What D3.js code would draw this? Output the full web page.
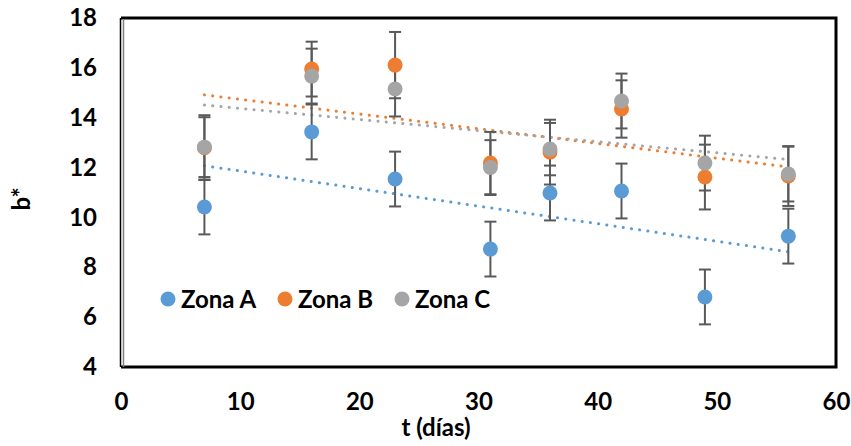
<!DOCTYPE html>
<html>
<head>
<meta charset="utf-8">
<script src="https://cdn.jsdelivr.net/npm/d3@7"></script>
<style>
  body { margin: 0; background: #fff; }
  svg { display: block; }
</style>
</head>
<body>
<div class="chart"></div>
<script>
// Data
const days = [7, 16, 23, 31, 36, 42, 49, 56]
const zonaA = [10.42, 13.43, 11.54, 8.73, 10.98, 11.06, 6.81, 9.25]
const zonaAErr = [1.1, 1.1, 1.1, 1.1, 1.1, 1.1, 1.1, 1.1]
const zonaB = [12.8, 15.95, 16.11, 12.18, 12.62, 14.35, 11.62, 11.66]
const zonaBErr = [1.3, 1.1, 1.33, 1.25, 1.3, 1.15, 1.3, 1.2]
const zonaC = [12.82, 15.67, 15.15, 12.0, 12.74, 14.67, 12.18, 11.74]
const zonaCErr = [1.2, 1.1, 1.1, 1.1, 1.05, 1.1, 1.1, 1.1]
const seriesNames = ["Zona A", "Zona B", "Zona C"]
const seriesColors = ["#5B9BD5", "#ED7D31", "#A5A5A5"]
const yTicks = [4, 6, 8, 10, 12, 14, 16, 18]
const xTicks = [0, 10, 20, 30, 40, 50, 60]

const series = [
    {name: seriesNames[0], values: zonaA, err: zonaAErr, color: seriesColors[0]},
    {name: seriesNames[1], values: zonaB, err: zonaBErr, color: seriesColors[1]},
    {name: seriesNames[2], values: zonaC, err: zonaCErr, color: seriesColors[2]}
]

// Dimensions
const width = 851
const height = 446
const margin = {top: 18, right: 15, bottom: 79, left: 121}
const font = "Lato, 'Open Sans', sans-serif"
const fontSize = "24px"

const svg = d3.select(".chart").append("svg")
    .attr("width", width)
    .attr("height", height)
    .attr("viewBox", [0, 0, width, height])

const x = d3.scaleLinear().domain([0, 60]).range([margin.left, width - margin.right])
const y = d3.scaleLinear().domain([4, 18]).range([height - margin.bottom, margin.top])

// Axes (labels only)
const yAxis = svg.append("g")
    .attr("transform", `translate(${margin.left},0)`)
    .call(d3.axisLeft(y).tickValues(yTicks).tickSize(0).tickPadding(24))
yAxis.select(".domain").remove()

const xAxis = svg.append("g")
    .attr("transform", `translate(0,${height - margin.bottom})`)
    .call(d3.axisBottom(x).tickValues(xTicks).tickSize(0).tickPadding(26))
xAxis.select(".domain").remove()

svg.selectAll(".tick text")
    .attr("font-family", font)
    .attr("font-weight", "bold")
    .attr("font-size", fontSize)
    .attr("fill", "#000")

// Linear trend lines (least squares, like Excel)
function trend(values) {
    const mx = d3.mean(days), my = d3.mean(values)
    const num = d3.sum(days, (t, i) => (t - mx) * (values[i] - my))
    const den = d3.sum(days, t => (t - mx) ** 2)
    const slope = num / den
    const t0 = d3.min(days), t1 = d3.max(days)
    return [[t0, my + slope * (t0 - mx)], [t1, my + slope * (t1 - mx)]]
}

const line = d3.line().x(d => x(d[0])).y(d => y(d[1]))

svg.append("g")
    .selectAll("path")
    .data(series)
    .join("path")
        .attr("d", d => line(trend(d.values)))
        .attr("fill", "none")
        .attr("stroke", d => d.color)
        .attr("stroke-width", 3)
        .attr("stroke-linecap", "round")
        .attr("stroke-dasharray", "0.1 8.2")

// Error bars
const errG = svg.append("g")
    .attr("stroke", "#595959")
    .attr("stroke-width", 2)
series.forEach(s => {
    days.forEach((t, i) => {
        const cx = x(t)
        const top = y(s.values[i] + s.err[i])
        const bot = y(s.values[i] - s.err[i])
        errG.append("line").attr("x1", cx).attr("x2", cx).attr("y1", top).attr("y2", bot)
        errG.append("line").attr("x1", cx - 6).attr("x2", cx + 6).attr("y1", top).attr("y2", top)
        errG.append("line").attr("x1", cx - 6).attr("x2", cx + 6).attr("y1", bot).attr("y2", bot)
    })
})

// Markers
series.forEach(s => {
    svg.append("g")
        .selectAll("circle")
        .data(days)
        .join("circle")
            .attr("cx", d => x(d))
            .attr("cy", (d, i) => y(s.values[i]))
            .attr("r", 7.5)
            .attr("fill", s.color)
})

// Plot frame
const x0 = x(0), x1 = x(60), y0 = y(18), y1 = y(4)
svg.append("path")
    .attr("d", `M${x0},${y0}H${x1}V${y1}H${x0}`)
    .attr("fill", "none")
    .attr("stroke", "#000")
    .attr("stroke-width", 3)
svg.append("line")
    .attr("x1", x0 - 0.5).attr("x2", x0 - 0.5).attr("y1", y0).attr("y2", y1)
    .attr("stroke", "#000").attr("stroke-width", 1.5)
svg.append("line")
    .attr("x1", x0 + 2.5).attr("x2", x0 + 2.5).attr("y1", y0 + 1).attr("y2", y1)
    .attr("stroke", "#7f7f7f").attr("stroke-width", 1.5)

// Legend
const legendX = [168, 285, 402]
const legend = svg.append("g")
    .selectAll("g")
    .data(series)
    .join("g")
        .attr("transform", (d, i) => `translate(${legendX[i]},299)`)
legend.append("circle")
    .attr("r", 7.5)
    .attr("fill", d => d.color)
legend.append("text")
    .attr("x", 13)
    .attr("dy", "0.36em")
    .attr("font-family", font)
    .attr("font-weight", "bold")
    .attr("font-size", fontSize)
    .text(d => d.name)

// Axis titles
svg.append("text")
    .attr("x", 436)
    .attr("y", 428)
    .attr("dy", "0.35em")
    .attr("text-anchor", "middle")
    .attr("font-family", font)
    .attr("font-weight", "bold")
    .attr("font-size", fontSize)
    .text("t (días)")

svg.append("text")
    .attr("transform", "translate(22,199) rotate(-90)")
    .attr("dy", "0.35em")
    .attr("text-anchor", "middle")
    .attr("font-family", font)
    .attr("font-weight", "bold")
    .attr("font-size", fontSize)
    .text("b*")
</script>
</body>
</html>
